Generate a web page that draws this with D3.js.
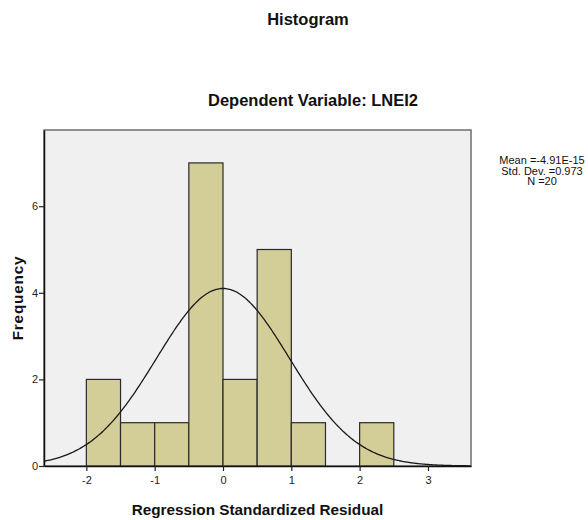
<!DOCTYPE html>
<html>
<head>
<meta charset="utf-8">
<script src="https://cdn.jsdelivr.net/npm/d3@7"></script>
<style>
body { margin: 0; background: #fff; }
text { font-family: "Liberation Sans", Arial, sans-serif; fill: #111; }
.title { font-weight: bold; font-size: 16.5px; }
.axlab { font-weight: bold; font-size: 15.3px; }
.tick text { font-size: 11px; fill: #222; }
.stats { font-family: "Liberation Sans Narrow", "Liberation Sans", Arial, sans-serif; font-size: 11px; }
</style>
</head>
<body>
<div class="graphic"></div>
<script>
var width = 588;
var height = 520;

// histogram bins (lower edge) and counts
var binStarts = [-2, -1.5, -1, -0.5, 0, 0.5, 1, 1.5, 2];
var counts = [2, 1, 1, 7, 2, 5, 1, 0, 1];
var binWidth = 0.5;
var xTicks = [-2, -1, 0, 1, 2, 3];
var yTicks = [0, 2, 4, 6];
// fitted normal, from the stats box
var mean = -4.91e-15;
var sd = 0.973;
var n = 20;
var statLines = ["Mean =-4.91E-15", "Std. Dev. =0.973", "N =20"];

var margin = {left: 44, top: 130, right: 117, bottom: 54};
var plotW = width - margin.left - margin.right;
var plotH = height - margin.top - margin.bottom;

var svg = d3.select("div.graphic").append("svg")
	.attr("width", width)
	.attr("height", height);

var x = d3.scaleLinear().domain([-2.62, 3.63]).range([0, plotW]);
var y = d3.scaleLinear().domain([0, 7.76]).range([plotH, 0]);

var g = svg.append("g")
	.attr("transform", "translate(" + margin.left + "," + margin.top + ")");

// background panel
g.append("rect")
	.attr("width", plotW)
	.attr("height", plotH)
	.attr("fill", "#f0f0f0")
	.attr("stroke", "#6e6e6e")
	.attr("stroke-width", 1.5);

// bars
g.selectAll("rect.bar")
	.data(binStarts.map(function(s, i){ return {x0: s, c: counts[i]}; }).filter(function(d){ return d.c > 0; }))
	.enter()
	.append("rect")
	.attr("class", "bar")
	.attr("x", function(d){ return x(d.x0); })
	.attr("y", function(d){ return y(d.c); })
	.attr("width", function(d){ return x(d.x0 + binWidth) - x(d.x0); })
	.attr("height", function(d){ return y(0) - y(d.c); })
	.attr("fill", "#d3ce97")
	.attr("stroke", "#2a2a2a")
	.attr("stroke-width", 1.2);

// normal curve scaled to counts
var xs = d3.range(-2.62, 3.63, 0.02);
var curve = d3.line()
	.x(function(v){ return x(v); })
	.y(function(v){
		var z = (v - mean) / sd;
		return y(n * binWidth * Math.exp(-0.5 * z * z) / (sd * Math.sqrt(2 * Math.PI)));
	})
	.curve(d3.curveBasis);
g.append("path")
	.attr("d", curve(xs))
	.attr("fill", "none")
	.attr("stroke", "#1a1a1a")
	.attr("stroke-width", 1.3);

// axes
var plain = function(d){ return String(d); };
var xAxis = g.append("g")
	.attr("transform", "translate(0," + plotH + ")")
	.call(d3.axisBottom(x).tickValues(xTicks).tickFormat(plain).tickSize(5).tickSizeOuter(0));
var yAxis = g.append("g")
	.call(d3.axisLeft(y).tickValues(yTicks).tickFormat(plain).tickSize(5).tickSizeOuter(0));
[xAxis, yAxis].forEach(function(a){
	a.select(".domain").attr("stroke", "#111").attr("stroke-width", 1.5);
	a.selectAll(".tick line").attr("stroke", "#222").attr("stroke-width", 1.2);
});
xAxis.selectAll(".tick text").attr("dy", "0.95em");
yAxis.selectAll(".tick text").attr("x", -6);

// titles
svg.append("text").attr("class", "title")
	.attr("x", 308).attr("y", 25).attr("text-anchor", "middle")
	.text("Histogram");
svg.append("text").attr("class", "title")
	.attr("x", 313).attr("y", 106).attr("text-anchor", "middle")
	.text("Dependent Variable: LNEI2");
svg.append("text").attr("class", "axlab")
	.attr("x", margin.left + plotW / 2).attr("y", 515).attr("text-anchor", "middle")
	.text("Regression Standardized Residual");
svg.append("text").attr("class", "axlab")
	.attr("transform", "translate(23," + (margin.top + plotH / 2) + ") rotate(-90)")
	.attr("text-anchor", "middle")
	.attr("letter-spacing", "0.8px")
	.text("Frequency");

// stats box
svg.selectAll("text.stats")
	.data(statLines)
	.enter()
	.append("text")
	.attr("class", "stats")
	.attr("x", 542)
	.attr("y", function(d, i){ return 164 + i * 10.5; })
	.attr("text-anchor", "middle")
	.text(function(d){ return d; });
</script>
</body>
</html>
